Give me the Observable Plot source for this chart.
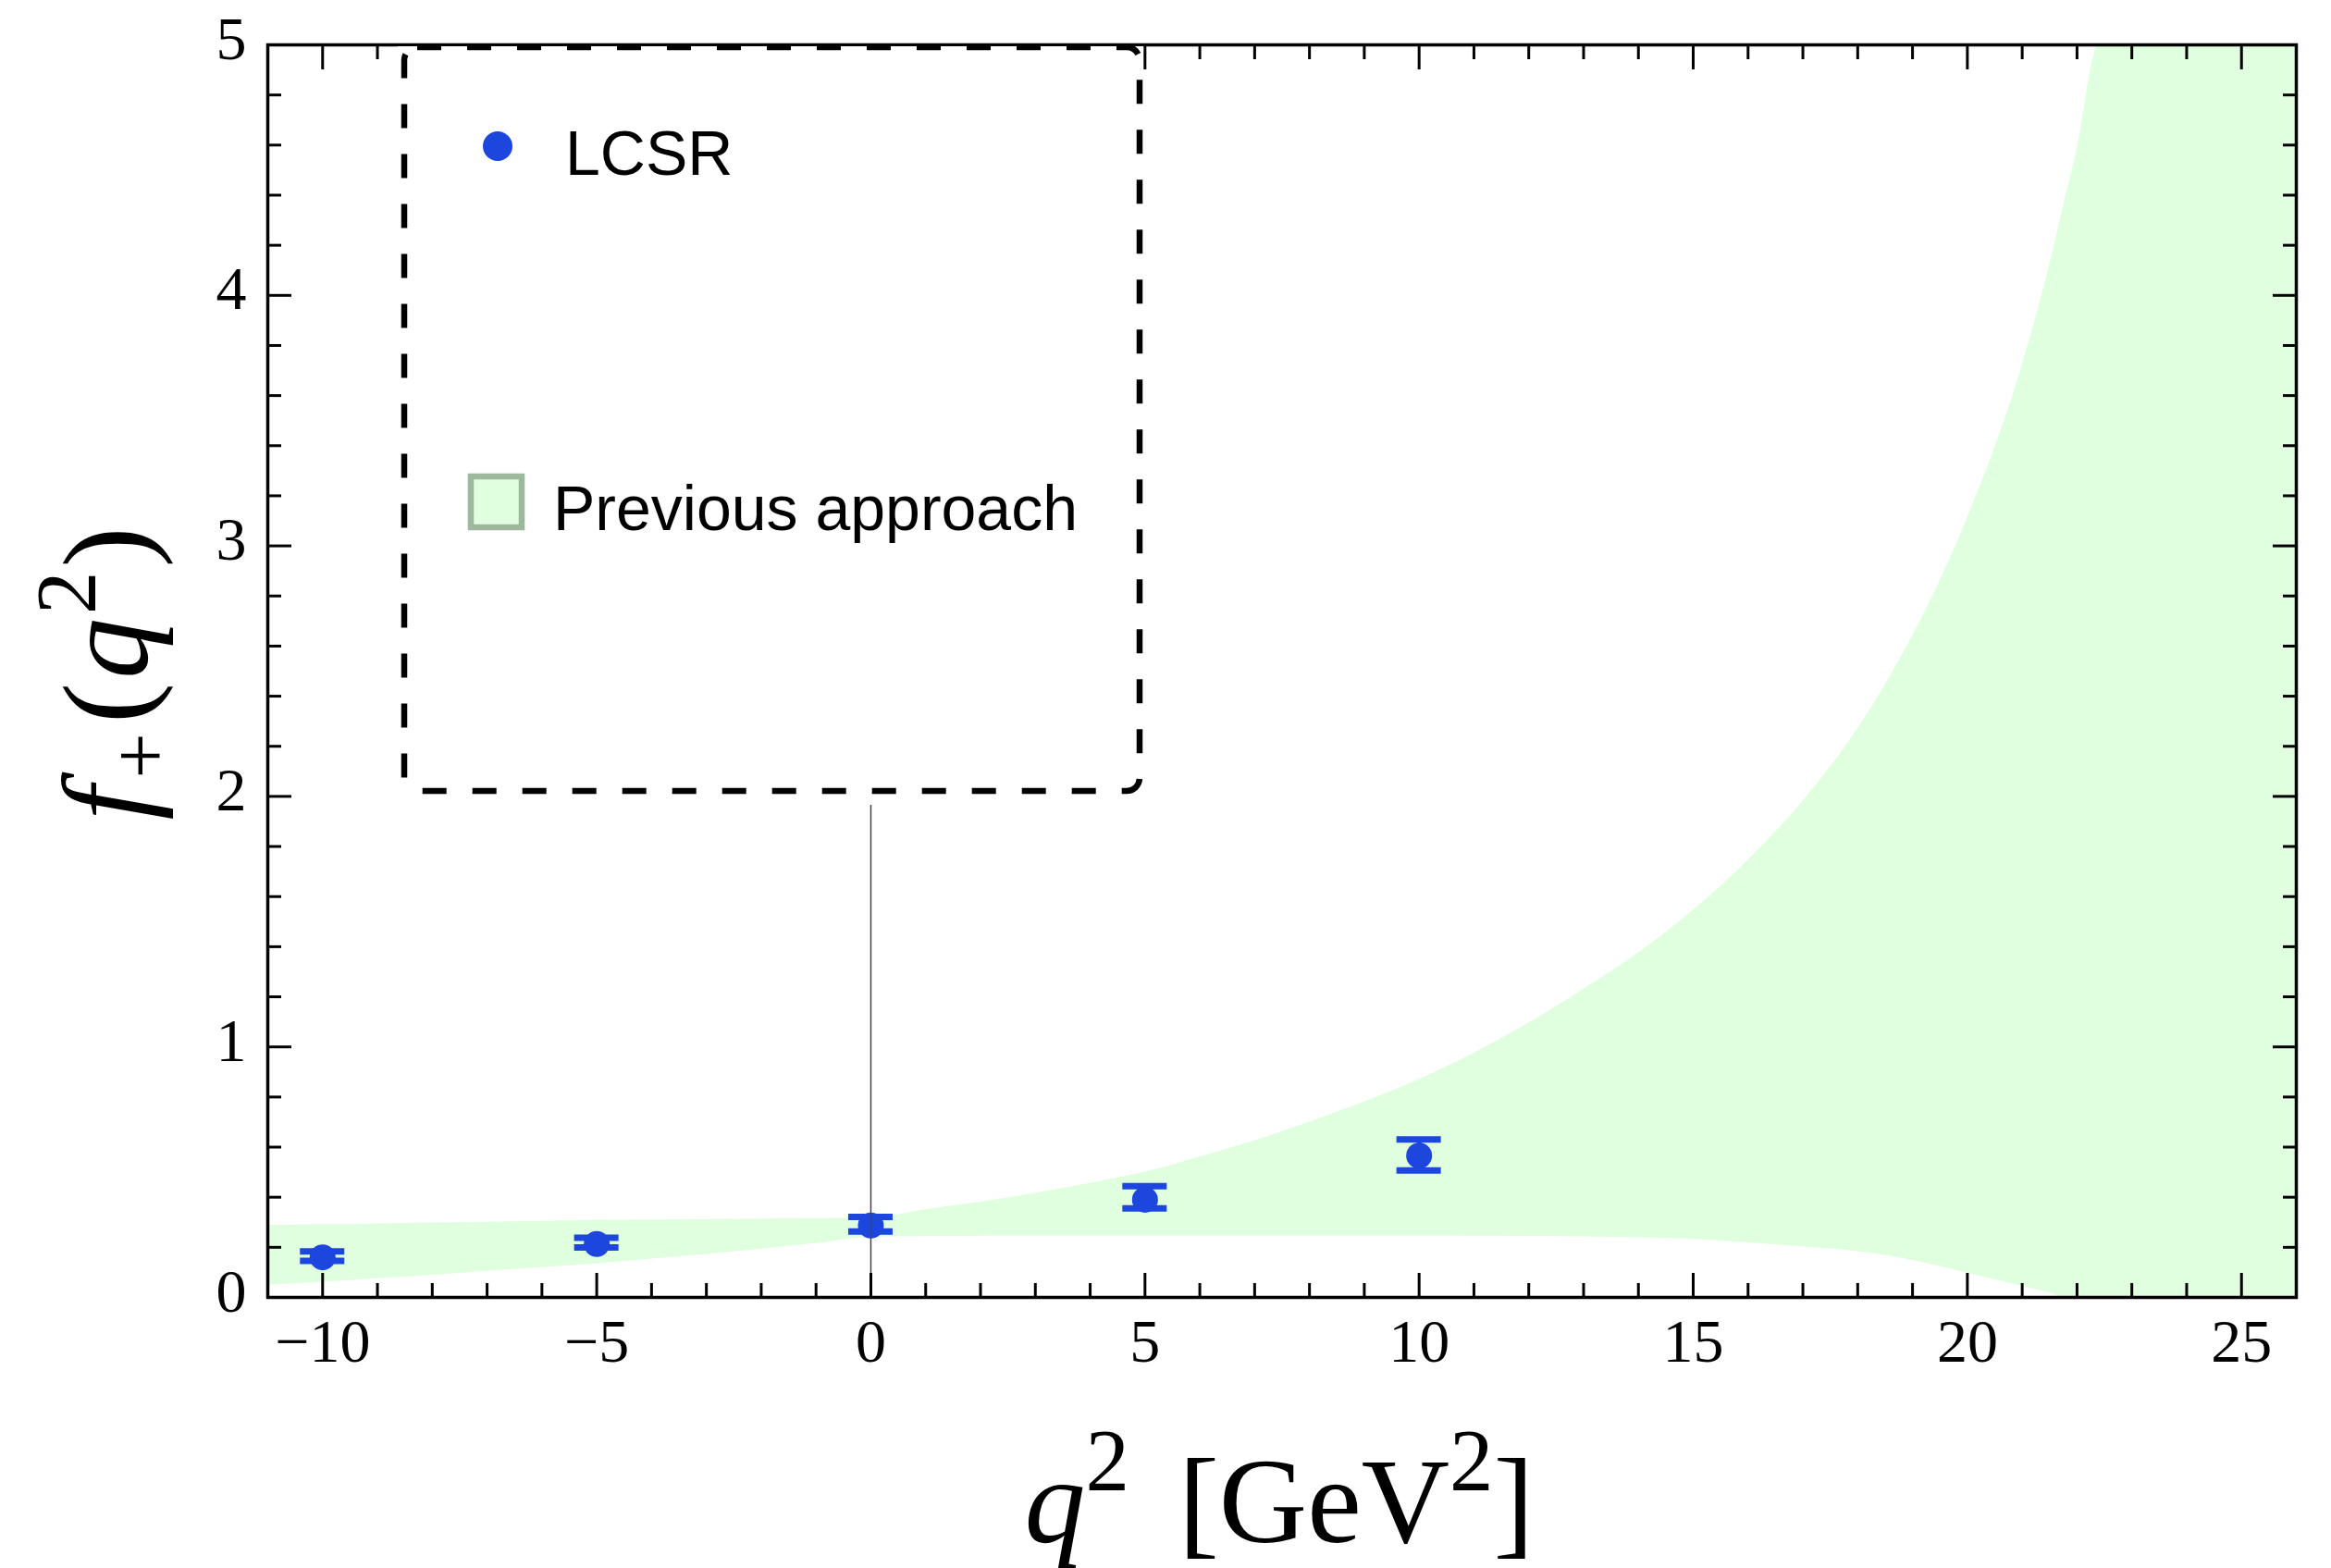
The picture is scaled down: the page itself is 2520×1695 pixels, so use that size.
<!DOCTYPE html>
<html><head><meta charset="utf-8">
<script src="https://cdn.jsdelivr.net/npm/d3@7"></script>
<script src="https://cdn.jsdelivr.net/npm/@observablehq/plot@0.6"></script>
<style>html,body{margin:0;padding:0;background:#fff;} svg{display:block}</style>
</head><body><div id="chart"></div>
<script>
// ---- data ----
const bandX    = [-11,-10,-9,-8,-7,-6,-5,-4,-3,-2,-1,0,1,2,3,4,5,6,7,8,9,10,11,12,13,14,15,16,17,18,19,20,21,21.5,21.8,22,22.4,23,24,25,26];
const bandLow  = [0.049,0.061,0.075,0.089,0.104,0.119,0.135,0.153,0.172,0.193,0.215,0.240,
                  0.243,0.245,0.246,0.246,0.246,0.246,0.246,0.246,0.246,0.246,0.245,0.244,0.242,0.238,0.232,0.218,0.202,0.183,0.148,0.097,0.045,
                  0.018,0,0,0,0,0,0,0];
const bandHigh = [0.288,0.291,0.294,0.297,0.300,0.304,0.307,0.309,0.311,0.313,0.315,0.317,
                  0.350,0.380,0.415,0.455,0.500,0.560,0.625,0.700,0.780,0.870,0.975,1.095,1.230,1.375,1.545,1.745,1.980,2.270,2.640,3.110,3.720,
                  4.120,4.400,4.580,5.000,5,5,5,5];
const pointsX = [-10, -5, 0, 5, 10];
const pointsY = [0.160, 0.213, 0.287, 0.390, 0.566];
const errLow  = [0.146, 0.199, 0.263, 0.355, 0.507];
const errHigh = [0.184, 0.238, 0.321, 0.444, 0.631];
const xMajor = [-10, -5, 0, 5, 10, 15, 20, 25];
const xMinor = d3.range(-11, 27).filter(v => v % 5 !== 0);
const yMajor = [0, 1, 2, 3, 4, 5];
const yMinor = d3.range(0, 26).filter(i => i % 5 !== 0).map(i => i / 5);
const legendLabels = ["LCSR", "Previous approach"];

const band = bandX.map((x, i) => ({x, lo: bandLow[i], hi: bandHigh[i]}));
const points = pointsX.map((x, i) => ({x, y: pointsY[i], lo: errLow[i], hi: errHigh[i]}));

const BLUE = "#1c46de";
const GREEN = "#dfffdf";
const SERIF = "'Liberation Serif', 'Times New Roman', serif";
const SANS = "'Liberation Sans', Arial, sans-serif";
const fmt = d => d < 0 ? "\u2212" + Math.abs(d) : String(d);
const noText = () => "";

const tickOpts = {strokeWidth: 3, tickFormat: noText, label: null};

const chart = Plot.plot({
  width: 2520, height: 1695,
  marginLeft: 289, marginRight: 38, marginTop: 48, marginBottom: 293,
  x: {domain: [-11, 26]},
  y: {domain: [0, 5]},
  style: {fontFamily: SERIF, fontSize: "66px", background: "white", color: "black"},
  marks: [
    Plot.areaY(band, {x: "x", y1: "lo", y2: "hi", fill: GREEN, curve: "monotone-x", clip: true}),
    Plot.ruleX(points, {x: "x", y1: "lo", y2: "hi", stroke: BLUE, strokeWidth: 5}),
    Plot.ruleY(points, {y: "hi", x1: "x", x2: "x", insetLeft: -24, insetRight: -24, stroke: BLUE, strokeWidth: 7}),
    Plot.ruleY(points, {y: "lo", x1: "x", x2: "x", insetLeft: -24, insetRight: -24, stroke: BLUE, strokeWidth: 7}),
    Plot.dot(points, {x: "x", y: "y", r: 14, fill: BLUE}),
    Plot.ruleX([0], {stroke: "#444", strokeWidth: 1.5}),
    Plot.frame({stroke: "black", strokeWidth: 3.5}),
    Plot.axisX(xMajor, {anchor: "bottom", tickSize: -26, ...tickOpts}),
    Plot.axisX(xMinor, {anchor: "bottom", tickSize: -15, ...tickOpts}),
    Plot.axisX(xMajor, {anchor: "top", tickSize: -26, ...tickOpts}),
    Plot.axisX(xMinor, {anchor: "top", tickSize: -15, ...tickOpts}),
    Plot.axisY(yMajor, {anchor: "left", tickSize: -26, ...tickOpts}),
    Plot.axisY(yMinor, {anchor: "left", tickSize: -15, ...tickOpts}),
    Plot.axisY(yMajor, {anchor: "right", tickSize: -26, ...tickOpts}),
    Plot.axisY(yMinor, {anchor: "right", tickSize: -15, ...tickOpts}),
    Plot.axisX(xMajor, {anchor: "bottom", tickSize: 0, tickPadding: 23, tickFormat: fmt, label: null}),
    Plot.axisY(yMajor, {anchor: "left", tickSize: 0, tickPadding: 23, tickFormat: fmt, label: null, dy: -6})
  ]
});
document.getElementById("chart").appendChild(chart);

const svg = d3.select(chart);

// ---- legend ----
const lg = svg.append("g").attr("text-anchor", "start");
lg.append("rect").attr("x", 430).attr("y", 50).attr("width", 806).attr("height", 820).attr("fill", "white");
lg.append("rect").attr("x", 437).attr("y", 51).attr("width", 795).attr("height", 804).attr("rx", 14)
  .attr("fill", "none").attr("stroke", "black").attr("stroke-width", 6.5).attr("stroke-dasharray", "26 28");
lg.append("circle").attr("cx", 538).attr("cy", 158).attr("r", 16).attr("fill", BLUE);
lg.append("text").attr("x", 611).attr("y", 189).attr("text-anchor", "start").attr("font-family", SANS)
  .attr("font-size", 68).attr("fill", "black").text(legendLabels[0]);
lg.append("rect").attr("x", 509).attr("y", 515).attr("width", 55).attr("height", 55)
  .attr("fill", GREEN).attr("stroke", "#9db89d").attr("stroke-width", 6.5);
lg.append("text").attr("x", 598).attr("y", 573).attr("text-anchor", "start").attr("font-family", SANS)
  .attr("font-size", 68).attr("fill", "black").text(legendLabels[1]);

// ---- axis titles ----
const yl = svg.append("text").attr("transform", "translate(159,728) rotate(-90)")
  .attr("text-anchor", "middle").attr("font-family", SERIF).attr("font-size", 132).attr("fill", "black")
  .style("white-space", "pre");
yl.append("tspan").attr("font-style", "italic").text("f");
yl.append("tspan").attr("font-size", 88).attr("dy", 22).attr("dx", 8).text("+");
yl.append("tspan").attr("dy", -22).attr("dx", 10).text("(");
yl.append("tspan").attr("font-style", "italic").attr("dx", 4).text("q");
yl.append("tspan").attr("font-size", 93).attr("dy", -56).attr("dx", 4).text("2");
yl.append("tspan").attr("dy", 56).attr("dx", 4).text(")");

const xl = svg.append("text").attr("x", 1383).attr("y", 1667)
  .attr("text-anchor", "middle").attr("font-family", SERIF).attr("font-size", 132).attr("fill", "black")
  .style("white-space", "pre");
xl.append("tspan").attr("font-style", "italic").text("q");
xl.append("tspan").attr("font-size", 95).attr("dy", -56).text("2");
xl.append("tspan").attr("dy", 56).attr("dx", 20).text(" [GeV");
xl.append("tspan").attr("font-size", 95).attr("dy", -56).text("2");
xl.append("tspan").attr("dy", 56).text("]");
</script>
</body></html>
